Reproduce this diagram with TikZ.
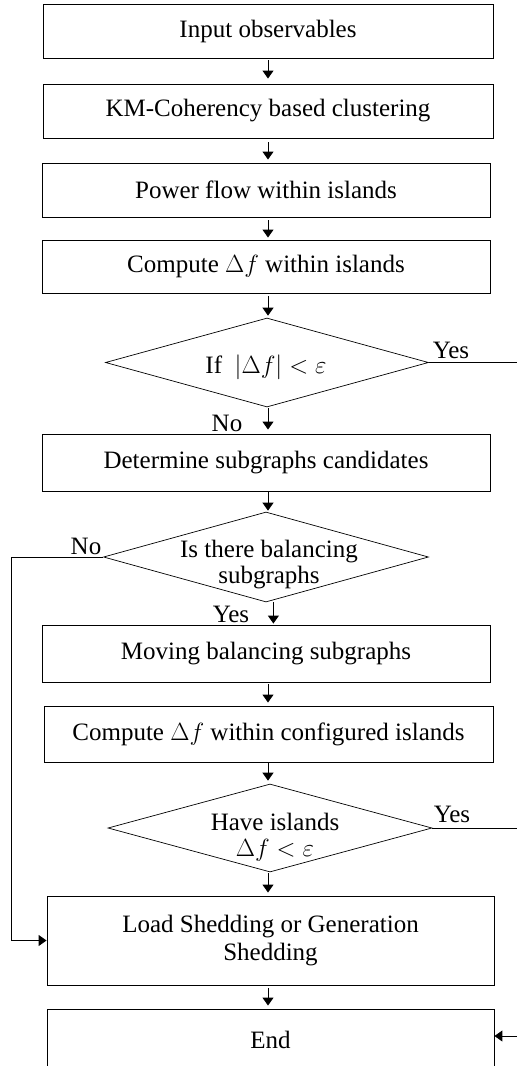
\documentclass[tikz,border=0pt]{standalone}
\usepackage{fontspec}
\setmainfont{Liberation Serif}
\usetikzlibrary{shapes.geometric,arrows.meta}
\begin{document}
\begin{tikzpicture}[x=1pt,y=-1pt,
 box/.style={draw, line width=0.9pt, inner sep=0pt, align=center, font=\fontsize{25}{28}\selectfont},
 dia/.style={draw, diamond, line width=0.7pt, inner sep=0pt},
 txt/.style={inner sep=0pt, align=center, font=\fontsize{25}{26}\selectfont},
 arr/.style={-{Triangle[length=8pt,width=11pt]}, line width=1pt},
 ln/.style={line width=1pt}]
\useasboundingbox (0,0) rectangle (517,1066);
% boxes
\node[box, minimum width=450pt, minimum height=54pt] (b1) at (268,31) {Input observables};
\node[box, minimum width=450pt, minimum height=54pt] (b2) at (268,111) {KM-Coherency based clustering};
\node[box, minimum width=448pt, minimum height=54pt] (b3) at (266,190) {Power flow within islands};
\node[box, minimum width=448pt, minimum height=53pt] (b4) at (266,266.5) {Compute $\Delta f$ within islands};
\node[box, minimum width=448pt, minimum height=57pt] (b5) at (266,462.5) {Determine subgraphs candidates};
\node[box, minimum width=448pt, minimum height=57pt] (b6) at (266,653.5) {Moving balancing subgraphs};
\node[box, minimum width=449pt, minimum height=56pt] (b7) at (268.5,734) {Compute $\Delta f$ within configured islands};
\node[box, minimum width=447pt, minimum height=89pt] (b8) at (270.5,940.5) {Load Shedding or Generation\\Shedding};
\node[box, minimum width=447pt, minimum height=62pt] (b9) at (270.5,1040) {End};
% diamonds
\node[dia, minimum width=323pt, minimum height=89pt] (d1) at (267,362.5) {};
\node[dia, minimum width=325pt, minimum height=90pt] (d2) at (266,557) {};
\node[dia, minimum width=324pt, minimum height=88pt] (d3) at (270,828) {};
\node[txt] (t1) at (266,367) {If\ \ $|\Delta f| < \varepsilon$};
\node[txt] (t2) at (269,565) {Is there balancing\\subgraphs};
\node[txt] (t3) at (275,837) {Have islands\\$\Delta f < \varepsilon$};
% labels
\node[txt] (y1) at (451,350) {Yes};
\node[txt] (n1) at (227,423) {No};
\node[txt] (n2) at (86,546) {No};
\node[txt] (y2) at (231,614) {Yes};
\node[txt] (y3) at (452,814) {Yes};
% helper coordinates
\coordinate (rr) at (517,0);
\coordinate (lft) at (11,557);
\coordinate (rin) at (517,1036);
% connectors
\draw[arr, shorten <=2pt, shorten >=5pt] (b1.south) -- (b1.south |- b2.north);
\draw[arr, shorten <=4pt, shorten >=3pt] (b2.south) -- (b2.south |- b3.north);
\draw[arr, shorten <=3pt, shorten >=2pt] (b3.south -| b2.south) -- (b2.south |- b4.north);
\draw[arr, shorten <=3pt, shorten >=2pt] (b4.south -| b2.south) -- (b2.south |- d1.north);
\draw[arr, shorten <=1pt, shorten >=4pt] (d1.south -| b2.south) -- (b2.south |- b5.north);
\draw[ln] (d1.east) -- (d1.east -| rr);
\draw[arr, shorten <=1pt, shorten >=1pt] (b5.south -| b1.south) -- (b1.south |- d2.north);
\draw[ln] (d2.west) -- (lft);
\draw[arr] (lft) |- (b8.west);
\draw[arr, shorten <=0pt, shorten >=1pt] (d2.south -| y2.east) ++(24,0) coordinate (d2s) -- (d2s |- b6.north);
\draw[arr, shorten <=2pt, shorten >=3pt] (b6.south -| b1.south) -- (b1.south |- b7.north);
\draw[arr, shorten <=1pt, shorten >=3pt] (b7.south -| b1.south) -- (b1.south |- d3.north);
\draw[ln] (d3.east) -- (d3.east -| rr);
\draw[arr, shorten <=1pt, shorten >=3pt] (d3.south -| b1.south) -- (b1.south |- b8.north);
\draw[arr, shorten <=3pt, shorten >=3pt] (b8.south -| b1.south) -- (b1.south |- b9.north);
\draw[arr] (rin) -- (rin -| b9.east);
\end{tikzpicture}
\end{document}
